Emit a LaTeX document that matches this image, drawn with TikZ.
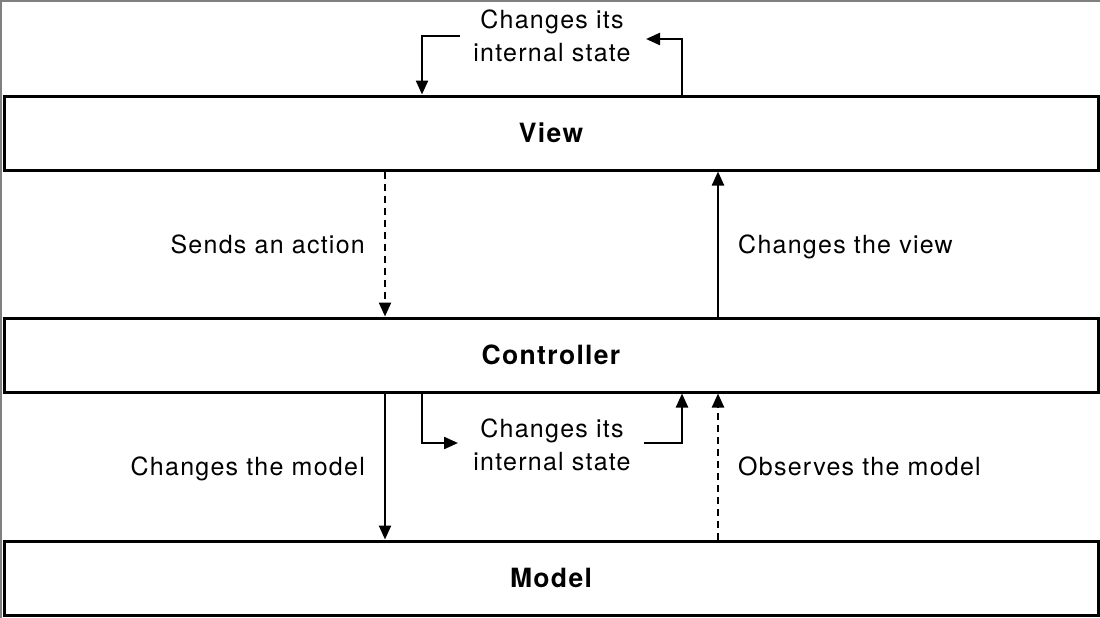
\documentclass[tikz,border=0pt]{standalone}
\usepackage{fontspec}
\setmainfont{TeX Gyre Heros}[LetterSpace=5]
\usetikzlibrary{arrows.meta}
\tikzset{
  layer/.style={draw=black, line width=3pt, fill=white, minimum width=1094pt, minimum height=74pt, inner sep=0pt, font=\fontsize{26.5}{30}\selectfont\bfseries},
  lbl/.style={font=\fontsize{25}{33}\selectfont, inner sep=0pt, align=center},
  arr/.style={line width=2.3pt, -{Triangle[length=14pt,width=12pt]}},
  dsh/.style={dash pattern=on 7pt off 5pt}
}
\begin{document}
\begin{tikzpicture}[x=1pt,y=-1pt]
\useasboundingbox (0,0) rectangle (1100,618);
\fill[white] (0,0) rectangle (1100,618);
\draw[gray, line width=2pt] (1,618) -- (1,1) -- (1100,1);
\node[layer] (view) at (551,133) {View};
\node[layer] (ctrl) at (551,355) {Controller};
\node[layer] (model) at (551,578) {Model};
% top loop
\node[lbl] (toptxt) at (552,36) {Changes its\\internal state};
\coordinate (tl) at (460,36);
\coordinate (tr) at (682,39);
\coordinate (trh) at (646,39);
\draw[arr] (tl) -- (422,36) -- (422,0 |- view.north);
\draw[arr] (682,0 |- view.north) -- (tr) -- (trh);
% view - controller
\draw[arr, dsh] (385,0 |- view.south) -- (385,0 |- ctrl.north);
\node[lbl, anchor=base east] (send) at (365,253) {Sends an action};
\draw[arr] (718,0 |- ctrl.north) -- (718,0 |- view.south);
\node[lbl, anchor=base west] (chview) at (738,253) {Changes the view};
% controller loop
\node[lbl] (midtxt) at (552,445) {Changes its\\internal state};
\coordinate (ml) at (422,443);
\coordinate (mlh) at (458,443);
\coordinate (mr) at (644,443);
\draw[arr] (422,0 |- ctrl.south) -- (ml) -- (mlh);
\draw[arr] (mr) -- (682,443) -- (682,0 |- ctrl.south);
% controller - model
\draw[arr] (385,0 |- ctrl.south) -- (385,0 |- model.north);
\node[lbl, anchor=base east] (chmodel) at (365,475) {Changes the model};
\draw[arr, dsh] (718,0 |- model.north) -- (718,0 |- ctrl.south);
\node[lbl, anchor=base west] (obs) at (738,475) {Observes the model};
\end{tikzpicture}
\end{document}
